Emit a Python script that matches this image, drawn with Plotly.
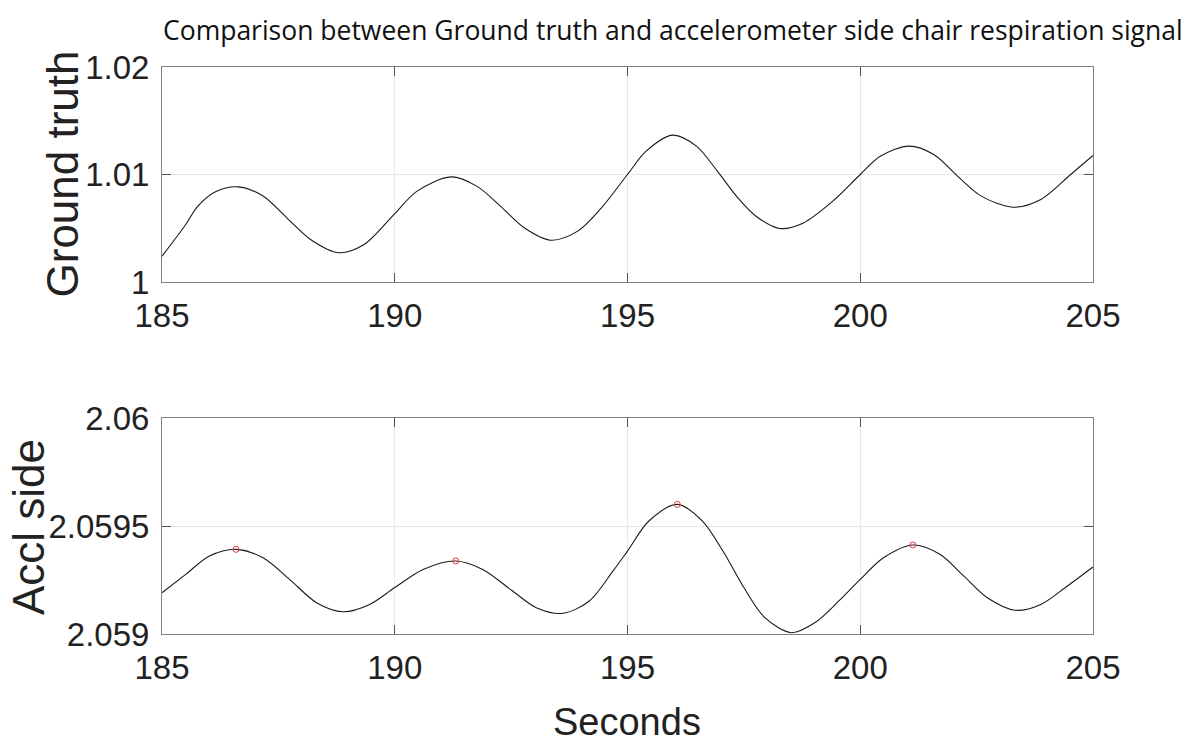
import plotly.graph_objects as go

# ---- data ----
gt_time = [185.0, 185.51, 185.77, 186.15, 186.63, 187.17, 187.68, 188.19, 188.8,
           189.34, 189.85, 190.0, 190.48, 191.21, 191.76, 192.27, 192.78, 193.35,
           193.93, 194.44, 195.0, 195.4, 195.97, 196.48, 196.93, 197.37, 197.76, 198.27,
           198.78, 199.41, 200.0, 200.43, 201.05, 201.58, 202.09, 202.6, 203.28,
           203.88, 204.52, 205.0]
gt_vals = [1.0024, 1.00535, 1.00705, 1.00839, 1.00885, 1.0080, 1.00597, 1.00396, 1.00272,
           1.00349, 1.00566, 1.00635, 1.00845, 1.00978, 1.00892, 1.00706, 1.00504, 1.00389,
           1.00473, 1.0069, 1.0100, 1.01217, 1.01366, 1.01264, 1.01031, 1.00783, 1.00612, 1.00498,
           1.0055, 1.00752, 1.0100, 1.0117, 1.01264, 1.01186, 1.00985, 1.00799, 1.00696,
           1.00768, 1.0100, 1.01177]

ac_time = [185.0, 185.51, 186.02, 186.59, 187.17, 187.74, 188.32, 188.89,
           189.46, 190.0, 190.61, 191.31, 191.89, 192.53, 193.04, 193.61,
           194.18, 194.69, 195.0, 195.46, 196.07, 196.61, 197.05, 197.5, 197.95, 198.52,
           199.03, 199.54, 200.0, 200.5, 201.13, 201.71, 202.22, 202.73, 203.33,
           203.88, 204.45, 205.0]
ac_vals = [2.059191, 2.059276, 2.059361, 2.059392, 2.059353, 2.059253, 2.059145, 2.059103,
           2.059137, 2.059215, 2.059299, 2.059338, 2.059299, 2.059199, 2.059122, 2.059096,
           2.059153, 2.059292, 2.059384, 2.059523, 2.059600, 2.059523, 2.059384, 2.059215,
           2.059076, 2.059006,
           2.059053, 2.059153, 2.059253, 2.059353, 2.059412, 2.059369, 2.059269, 2.059168,
           2.059110, 2.059137, 2.059222, 2.059310]

peak_time = [186.59, 191.31, 196.07, 201.13]
peak_vals = [2.059392, 2.059338, 2.059600, 2.059412]

x_ticks = [185, 190, 195, 200, 205]
gt_ticks = [1.0, 1.01, 1.02]
gt_ticktext = ["1", "1.01", "1.02"]
ac_ticks = [2.059, 2.0595, 2.06]
ac_ticktext = ["2.059", "2.0595", "2.06"]

title_text = "Comparison between Ground truth and accelerometer side chair respiration signal"

# ---- figure ----
W, H = 1201, 747
ML, MR, MT, MB = 162, 108, 67, 113
plot_h = H - MT - MB
plot_w = W - ML - MR
top_dom = [(634 - 282) / plot_h, 1.0]
bot_dom = [0.0, (634 - 418) / plot_h]

line_style = dict(color="#1a1a1a", width=1.1, shape="spline", smoothing=0.9)

fig = go.Figure()
fig.add_trace(go.Scatter(x=gt_time, y=gt_vals, mode="lines", line=line_style,
                         xaxis="x", yaxis="y", showlegend=False))
fig.add_trace(go.Scatter(x=ac_time, y=ac_vals, mode="lines", line=line_style,
                         xaxis="x2", yaxis="y2", showlegend=False))
fig.add_trace(go.Scatter(x=peak_time, y=peak_vals, mode="markers",
                         marker=dict(symbol="circle-open", size=6, color="#e0393e",
                                     line=dict(width=1)),
                         xaxis="x2", yaxis="y2", showlegend=False))

tick_font = dict(family="Liberation Sans, Arial, sans-serif", size=33, color="#222222")
axis_common = dict(showline=True, linecolor="#808080", linewidth=1, mirror="ticks",
                   ticks="inside", ticklen=9, tickcolor="#505050", tickwidth=1,
                   showgrid=True, gridcolor="#e8e8e8", gridwidth=1, zeroline=False,
                   tickfont=tick_font)

fig.update_layout(
    width=W, height=H, autosize=False,
    margin=dict(l=ML, r=MR, t=MT, b=MB),
    paper_bgcolor="white", plot_bgcolor="white",
    xaxis=dict(domain=[0, 1], anchor="y", range=[185, 205], tickvals=x_ticks,
               ticklabelstandoff=4, **axis_common),
    yaxis=dict(domain=top_dom, anchor="x", range=[1.0, 1.02], tickvals=gt_ticks,
               ticktext=gt_ticktext, ticklabelstandoff=5, **axis_common),
    xaxis2=dict(domain=[0, 1], anchor="y2", range=[185, 205], tickvals=x_ticks,
                ticklabelstandoff=4, **axis_common),
    yaxis2=dict(domain=bot_dom, anchor="x2", range=[2.059, 2.06], tickvals=ac_ticks,
                ticktext=ac_ticktext, ticklabelstandoff=5, **axis_common),
)

label_font = dict(family="Liberation Sans, Arial, sans-serif", size=44, color="#222222")
fig.add_annotation(text="Ground truth", xref="paper", yref="paper",
                   x=(62 - ML) / plot_w, y=(634 - 174.5) / plot_h,
                   xanchor="center", yanchor="middle", textangle=-90,
                   showarrow=False, font=label_font)
fig.add_annotation(text="Accl side", xref="paper", yref="paper",
                   x=(28 - ML) / plot_w, y=(634 - 527) / plot_h,
                   xanchor="center", yanchor="middle", textangle=-90,
                   showarrow=False, font=label_font)
fig.add_annotation(text="Seconds", xref="paper", yref="paper",
                   x=(627 - ML) / plot_w, y=(634 - 722) / plot_h,
                   xanchor="center", yanchor="middle",
                   showarrow=False, font=dict(family="Liberation Sans, Arial, sans-serif",
                                              size=38, color="#222222"))
fig.add_annotation(text=title_text, xref="paper", yref="paper",
                   x=(673 - ML) / plot_w, y=(634 - 30) / plot_h,
                   xanchor="center", yanchor="middle",
                   showarrow=False, font=dict(family="Open Sans, sans-serif",
                                              size=26.5, color="#111111"))

fig.write_html("out.html")
